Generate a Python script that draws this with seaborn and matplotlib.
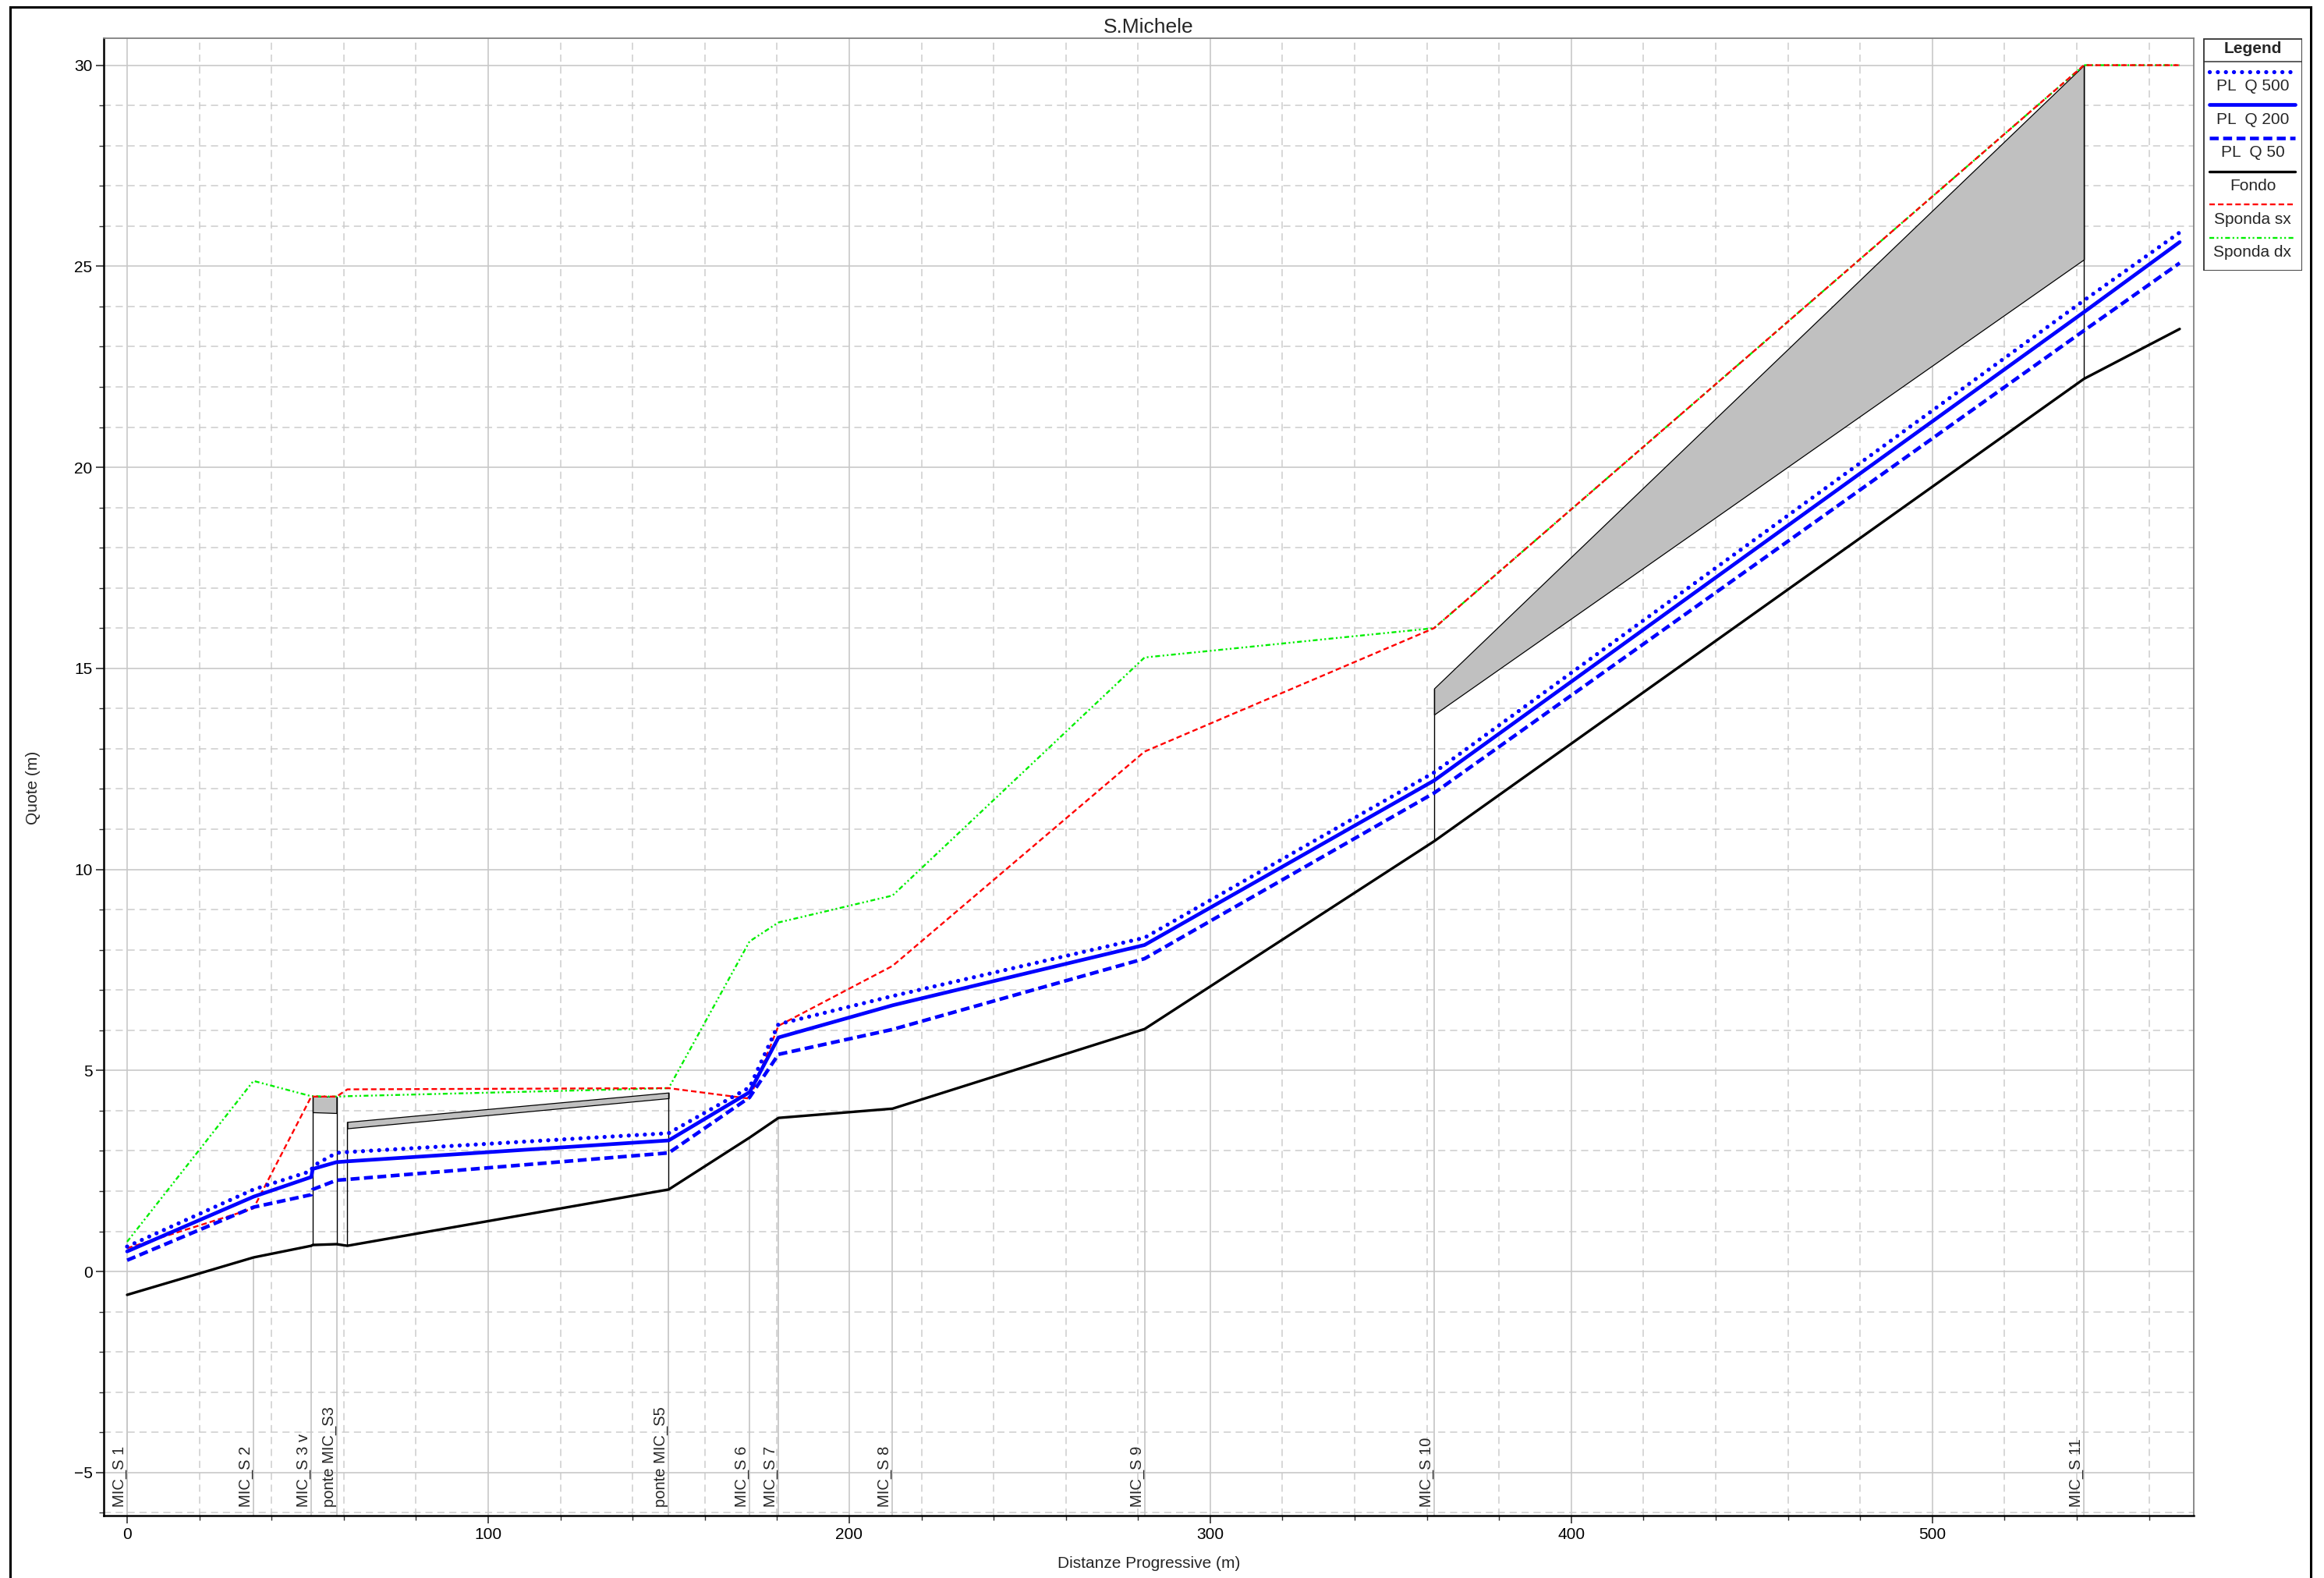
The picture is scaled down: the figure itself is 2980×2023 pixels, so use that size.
import matplotlib
matplotlib.use("Agg")
import matplotlib.pyplot as plt
import seaborn as sns
import pandas as pd
from matplotlib.patches import Rectangle
from matplotlib.ticker import MultipleLocator

# progressive distances of the computed points (m)
prog = [0, 35, 51, 51.4, 58, 61, 150, 172.4, 180.4, 212, 281.8, 362, 542, 568.5]

# levels (m) at each point
fondo = [-0.58, 0.35, 0.64, 0.66, 0.68, 0.64, 2.04, 3.33, 3.82, 4.05, 6.03, 10.70, 22.20, 23.44]
pl_500 = [0.62, 2.04, 2.50, 2.62, 2.95, 2.97, 3.44, 4.58, 6.15, 6.85, 8.30, 12.41, 24.15, 25.84]
pl_200 = [0.50, 1.86, 2.35, 2.55, 2.72, 2.74, 3.26, 4.46, 5.82, 6.62, 8.12, 12.21, 23.86, 25.60]
pl_50 = [0.28, 1.60, 1.91, 2.04, 2.27, 2.29, 2.95, 4.33, 5.40, 6.02, 7.78, 11.90, 23.40, 25.08]
sponda_sx = [0.58, 1.57, 4.35, 4.35, 4.35, 4.53, 4.56, 4.30, 6.11, 7.60, 12.93, 16.00, 30.00, 30.00]
sponda_dx = [0.74, 4.74, 4.36, 4.36, 4.35, 4.36, 4.56, 8.21, 8.68, 9.35, 15.27, 16.00, 30.00, 30.00]

# labelled cross sections
sez_x = [0, 35, 51, 58, 150, 172.4, 180.4, 212, 281.8, 362, 542]
sez_nomi = ["MIC_S 1", "MIC_S 2", "MIC_S 3 v", "ponte MIC_S3", "ponte MIC_S5",
            "MIC_S 6", "MIC_S 7", "MIC_S 8", "MIC_S 9", "MIC_S 10", "MIC_S 11"]

# structures: end distances, deck top, deck bottom
ponti_x = [[51.4, 58], [61, 150], [362, 542]]
ponti_top = [[4.35, 4.35], [3.72, 4.45], [14.50, 30.00]]
ponti_bot = [[3.96, 3.94], [3.56, 4.31], [13.85, 25.17]]

y_min, y_max = -6.07, 30.67
x_min, x_max = -6.48, 572.4

sns.set_style("white")
plt.rcParams['font.family'] = ['Liberation Sans', 'DejaVu Sans']

fig = plt.figure(figsize=(29.8, 20.23), dpi=100)
ax = fig.add_axes([133 / 2980, 80 / 2023, 2680 / 2980, 1894 / 2023])

# grid
ax.set_axisbelow(True)
ax.xaxis.set_major_locator(MultipleLocator(100))
ax.xaxis.set_minor_locator(MultipleLocator(20))
ax.yaxis.set_major_locator(MultipleLocator(5))
ax.yaxis.set_minor_locator(MultipleLocator(1))
ax.grid(which='major', color='#c8c8c8', lw=1.2, ls='-')
ax.grid(which='minor', color='#cdcdcd', lw=1.1, ls=(0, (6, 4)))

# section markers from the bottom up to the bed
fondo_sez = [fondo[prog.index(x)] for x in sez_x]
ax.vlines(sez_x, y_min, fondo_sez, color='#c8c8c8', lw=1.3, zorder=1.5)
for x, nome in zip(sez_x, sez_nomi):
    ax.text(x, -5.85, nome, rotation=90, ha='right', va='bottom', fontsize=14.5)

# structures
for px, top, bot in zip(ponti_x, ponti_top, ponti_bot):
    ax.fill_between(px, bot, top, facecolor='#c0c0c0', edgecolor='black', lw=0.9, zorder=2)
    base = [fondo[prog.index(x)] for x in px]
    ax.vlines(px, base, top, color='black', lw=1.0, zorder=2)

serie = [
    ("PL  Q 500", pl_500, "#0000ff", 3.8, (0, (0.01, 1.95))),
    ("PL  Q 200", pl_200, "#0000ff", 3.4, "-"),
    ("PL  Q 50", pl_50, "#0000ff", 3.3, (0, (2.5, 1.25))),
    ("Fondo", fondo, "black", 2.4, "-"),
    ("Sponda sx", sponda_sx, "#ff0000", 1.7, (0, (3.0, 1.7))),
    ("Sponda dx", sponda_dx, "#00ee00", 1.7, (0, (2.6, 1.4, 0.9, 1.4, 0.9, 1.4))),
]

for lab, vals, col, lw, ls in serie[::-1]:
    df = pd.DataFrame({"prog": prog, "quota": vals})
    cap = 'round' if lab == "PL  Q 500" else 'butt'
    sns.lineplot(data=df, x="prog", y="quota", ax=ax, color=col, lw=lw, linestyle=ls,
                 dash_capstyle=cap, estimator=None, sort=False, zorder=3)

ax.set_xlim(x_min, x_max)
ax.set_ylim(y_min, y_max)
ax.set_xlabel("")
ax.set_ylabel("")
ax.set_title("S.Michele", fontsize=19, pad=5)

ax.tick_params(which='both', direction='out', colors='#333333', labelcolor='black',
               bottom=True, left=True, labelsize=15)
ax.tick_params(which='major', length=7, width=1.2)
ax.tick_params(which='minor', length=4, width=1.0)

for s in ['left', 'bottom']:
    ax.spines[s].set_color('black')
    ax.spines[s].set_linewidth(1.8)
for s in ['top', 'right']:
    ax.spines[s].set_color('#808080')
    ax.spines[s].set_linewidth(1.3)

fig.text(42 / 2980, 1 - 1010 / 2023, "Quote (m)", rotation=90, ha='center', va='center', fontsize=15)
fig.text(1473 / 2980, 1 - 2005 / 2023, "Distanze Progressive (m)", ha='center', va='center', fontsize=15)

# legend box: sample line above its label
lax = fig.add_axes([2825 / 2980, 1 - 347 / 2023, 127 / 2980, 298 / 2023])
lax.set_xlim(0, 127)
lax.set_ylim(298, 0)
lax.axis('off')
lax.add_patch(Rectangle((0.5, 0.5), 126, 297, fill=False, ec='#333333', lw=1.3))
lax.plot([0.5, 126.5], [30, 30], color='#333333', lw=1.1)
lax.text(63.5, 14, "Legend", weight='bold', ha='center', va='center', fontsize=15)
for i, (lab, vals, col, lw, ls) in enumerate(serie):
    ly = 42.7 + 42.6 * i
    cap = 'round' if lab == "PL  Q 500" else 'butt'
    lax.plot([8, 118], [ly, ly], color=col, lw=lw, linestyle=ls, dash_capstyle=cap)
    lax.text(63.5, ly + 19, lab, ha='center', va='center', fontsize=15)

# outer frame
fig.add_artist(Rectangle((13 / 2980, -0.05), (2963 - 13) / 2980, 1.05 - 9 / 2023,
                         transform=fig.transFigure, fill=False, ec='black', lw=2.2))

fig.savefig("out.png", dpi=100)
